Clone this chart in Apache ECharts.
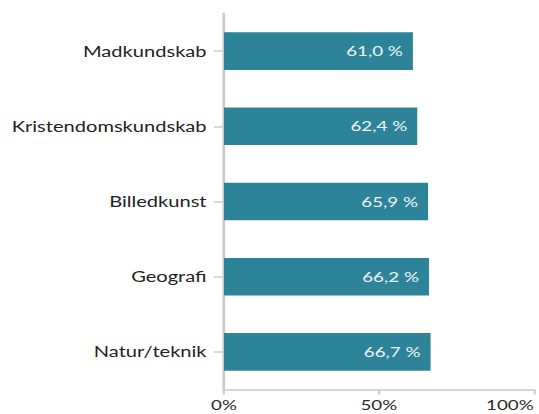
<!DOCTYPE html>
<html>
<head>
<meta charset="utf-8">
<script src="https://cdn.jsdelivr.net/npm/echarts@6/dist/echarts.min.js"></script>
<style>
  html, body { margin: 0; padding: 0; background: #fff; overflow: hidden; }
  /* the reference is horizontally stretched, so draw narrower and stretch */
  #main { width: 402px; height: 414px; transform: scaleX(1.34); transform-origin: 0 0; }
</style>
</head>
<body>
<div id="main"></div>
<script>
var categories = ['Madkundskab', 'Kristendomskundskab', 'Billedkunst', 'Geografi', 'Natur/teknik'];
var values = [61.0, 62.4, 65.9, 66.2, 66.7];
var xTicks = [0, 50, 100];

var sx = 1.34;
var chart = echarts.init(document.getElementById('main'), null, { renderer: 'svg' });
var option = {
    animation: false,
    grid: {
        left: 224 / sx,
        right: 5 / sx,
        top: 13.5,
        bottom: 24.5
    },
    xAxis: {
        type: 'value',
        min: xTicks[0],
        max: xTicks[xTicks.length - 1],
        interval: xTicks[1] - xTicks[0],
        axisLine: {
            show: true,
            lineStyle: { color: '#c8cacc', width: 1.5 }
        },
        axisTick: {
            show: true,
            length: 5,
            lineStyle: { color: '#c8cacc', width: 1.5 }
        },
        splitLine: { show: false },
        axisLabel: {
            formatter: '{value}%',
            color: '#2a2a2a',
            fontFamily: 'Lato',
            fontSize: 14,
            margin: 8,
            alignMaxLabel: 'right'
        }
    },
    yAxis: {
        type: 'category',
        inverse: true,
        data: categories,
        axisLine: {
            show: true,
            lineStyle: { color: '#c8cacc', width: 2 }
        },
        axisTick: {
            show: true,
            alignWithLabel: true,
            length: 7.5,
            lineStyle: { color: '#c8cacc', width: 1.5 }
        },
        axisLabel: {
            color: '#222',
            fontFamily: 'Lato',
            fontSize: 15,
            margin: 13
        }
    },
    series: [{
        type: 'bar',
        data: values,
        barWidth: '50%',
        itemStyle: { color: '#2d8499' },
        label: {
            show: true,
            position: 'insideRight',
            distance: 7.5,
            color: '#eef4f4',
            fontFamily: 'Lato',
            fontSize: 14,
            formatter: function (p) {
                return p.value.toFixed(1).replace('.', ',') + ' %';
            }
        }
    }]
};
chart.setOption(option);
</script>
</body>
</html>
